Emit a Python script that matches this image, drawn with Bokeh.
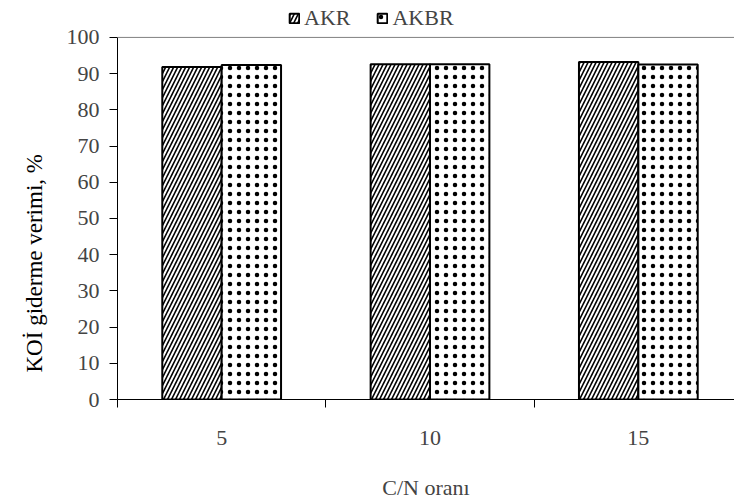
from bokeh.plotting import figure
from bokeh.models import (ColumnDataSource, Range1d, FixedTicker, LinearAxis,
                          Legend, LegendItem, Title, Span)
from bokeh.embed import file_html
from bokeh.resources import INLINE

categories = ["5", "10", "15"]
akr = [91.8, 92.6, 93.2]
akbr = [92.4, 92.6, 92.5]
y_ticks = [0, 10, 20, 30, 40, 50, 60, 70, 80, 90, 100]

FONT = "Liberation Serif"
FS = "22px"

centers = [i + 0.5 for i in range(len(categories))]
bw = 0.285
src = ColumnDataSource(dict(
    x_akr=[c - bw / 2 for c in centers],
    x_akbr=[c + bw / 2 for c in centers],
    akr=akr, akbr=akbr))

p = figure(width=734, height=502, output_backend="svg", toolbar_location=None,
           x_range=Range1d(0, 616 / 208), y_range=Range1d(0, 400 / 3.63),
           x_axis_location=None, y_axis_location=None,
           min_border_left=117, min_border_right=0, min_border_top=0,
           min_border_bottom=102)
p.grid.visible = False
p.outline_line_color = None
p.background_fill_color = "white"
p.border_fill_color = "white"

r1 = p.vbar(x="x_akr", top="akr", width=bw, source=src, fill_color="white",
            line_color="black", line_width=2, hatch_pattern="right_diagonal_line",
            hatch_color="black", hatch_scale=8, hatch_weight=1.6)
r2 = p.vbar(x="x_akbr", top="akbr", width=bw, source=src, fill_color="white",
            line_color="black", line_width=2, hatch_pattern="dot",
            hatch_color="black", hatch_scale=9, hatch_weight=0.3)

# top border line of the plot area
p.add_layout(Span(location=100, dimension="width", line_color="#808080",
                  line_width=1))

# y axis
ya = LinearAxis(ticker=FixedTicker(ticks=y_ticks), bounds=(0, 100))
ya.major_tick_in = 0
ya.major_tick_out = 8
ya.minor_tick_line_color = None
ya.major_label_text_font = FONT
ya.major_label_text_font_size = FS
ya.major_label_standoff = 10
ya.axis_line_color = "black"
p.add_layout(ya, "left")

# y title
yt = Title(text="KOİ giderme verimi, %", align="left", offset=27,
           text_font=FONT, text_font_size="23px", text_font_style="normal",
           text_color="black", standoff=34)
p.add_layout(yt, "left")

# bottom axis: boundary ticks
xb = LinearAxis(ticker=FixedTicker(ticks=[0, 1, 2]))
xb.major_tick_in = 0
xb.major_tick_out = 8
xb.minor_tick_line_color = None
xb.major_label_overrides = {0: "", 1: "", 2: ""}
xb.major_label_text_font_size = "1px"
xb.major_label_standoff = 0
xb.axis_line_color = "black"
p.add_layout(xb, "below")

# bottom axis: category labels
xl = LinearAxis(ticker=FixedTicker(ticks=centers))
xl.major_label_overrides = {c: n for c, n in zip(centers, categories)}
xl.major_tick_line_color = None
xl.minor_tick_line_color = None
xl.axis_line_color = None
xl.major_label_text_font = FONT
xl.major_label_text_font_size = FS
xl.major_label_standoff = 17
xl.axis_label = "C/N oranı"
xl.axis_label_text_font = FONT
xl.axis_label_text_font_size = FS
xl.axis_label_text_font_style = "normal"
xl.axis_label_standoff = 27
p.add_layout(xl, "below")

legend = Legend(items=[LegendItem(label="AKR", renderers=[r1]),
                       LegendItem(label="AKBR", renderers=[r2])],
                orientation="horizontal", location=(171, 368),
                label_text_font=FONT, label_text_font_size=FS,
                glyph_width=12, glyph_height=12, label_standoff=4,
                spacing=26, padding=2, margin=0,
                border_line_color=None, background_fill_alpha=0)
p.add_layout(legend)

open("out.html", "w").write(file_html(p, INLINE))
